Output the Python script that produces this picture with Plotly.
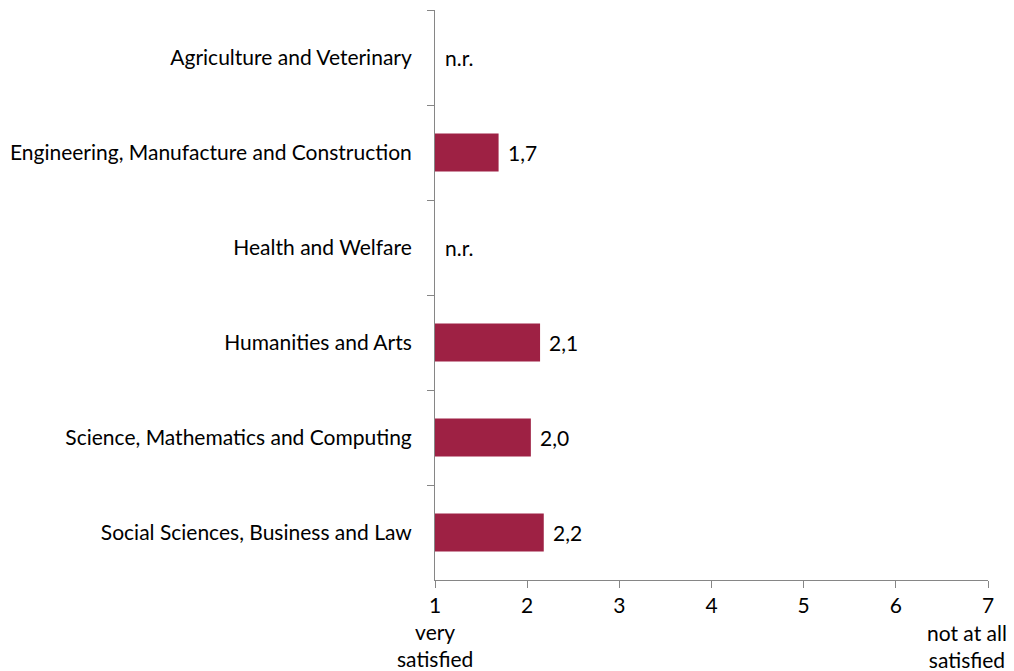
import plotly.graph_objects as go

categories = ["Agriculture and Veterinary",
              "Engineering, Manufacture and Construction",
              "Health and Welfare",
              "Humanities and Arts",
              "Science, Mathematics and Computing",
              "Social Sciences, Business and Law"]
values = [None, 1.69, None, 2.14, 2.04, 2.18]
value_labels = ["n.r.", "1,7", "n.r.", "2,1", "2,0", "2,2"]
x_ticks = [1, 2, 3, 4, 5, 6, 7]

FONT = "Lato"
FS = 21
COLOR = "#9E2144"

fig = go.Figure()
fig.add_trace(go.Bar(
    y=categories, x=[v if v is not None else 0 for v in values],
    orientation="h", marker=dict(color=COLOR, line=dict(width=0)),
    width=0.4, hoverinfo="skip",
))

for cat, v, lab in zip(categories, values, value_labels):
    fig.add_annotation(x=v if v is not None else 1, y=cat, text=lab,
                       xanchor="left", showarrow=False, xshift=7 if v is not None else 8,
                       font=dict(family=FONT, size=FS, color="#000"))

fig.add_annotation(x=1, y=-0.114, xref="x", yref="paper", text="very<br>satisfied",
                   showarrow=False, yanchor="middle", xanchor="center", borderpad=0,
                   font=dict(family=FONT, size=FS, color="#000"))
fig.add_annotation(x=6.77, y=-0.1155, xref="x", yref="paper", text="not at all<br>satisfied",
                   showarrow=False, yanchor="middle", xanchor="center", borderpad=0,
                   font=dict(family=FONT, size=FS, color="#000"))

fig.update_layout(
    width=1014, height=671,
    margin=dict(l=427, r=34, t=2, b=99),
    plot_bgcolor="white", paper_bgcolor="white",
    showlegend=False,
    font=dict(family=FONT, size=FS, color="#000"),
    xaxis=dict(range=[1, 7], tickvals=x_ticks, showgrid=False, zeroline=False,
               showline=True, linecolor="#868686", linewidth=1,
               ticks="outside", ticklen=7, tickcolor="#868686"),
    yaxis=dict(categoryorder="array", categoryarray=categories, autorange="reversed",
               showgrid=False, zeroline=False, showline=True, linecolor="#868686",
               linewidth=1, ticks="outside", ticklen=7, tickcolor="#868686",
               tickson="boundaries", ticklabelstandoff=18),
)

fig.write_html("out.html")
